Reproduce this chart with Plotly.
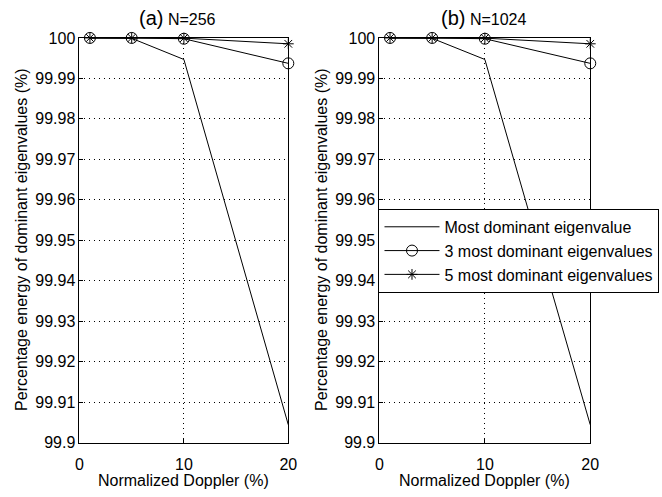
import plotly.graph_objects as go

doppler = [1, 5, 10, 20]
most_256 = [100.0, 99.9999, 99.99468, 99.9044]
three_256 = [100.0, 100.0, 99.9998, 99.99372]
five_256 = [100.0, 100.0, 99.99995, 99.99855]
most_1024 = [100.0, 99.9999, 99.99468, 99.9044]
three_1024 = [100.0, 100.0, 99.9998, 99.99372]
five_1024 = [100.0, 100.0, 99.99995, 99.99855]

y_ticks = [99.9, 99.91, 99.92, 99.93, 99.94, 99.95, 99.96, 99.97, 99.98, 99.99, 100]
y_ticktext = ["99.9", "99.91", "99.92", "99.93", "99.94", "99.95", "99.96", "99.97", "99.98", "99.99", "100"]
x_ticks = [0, 10, 20]
titles = ["(a)", "(b)"]
subtitles = ["N=256", "N=1024"]
names = ["Most dominant eigenvalue", "3 most dominant eigenvalues", "5 most dominant eigenvalues"]
x_title = "Normalized Doppler (%)"
y_title = "Percentage energy of dominant eigenvalues (%)"

FONT = "Liberation Sans, Arial, sans-serif"
FS = 16
W, H = 662, 497

fig = go.Figure()

datasets = [(most_256, three_256, five_256), (most_1024, three_1024, five_1024)]
for i, (m, t, f) in enumerate(datasets):
    xa = "x" if i == 0 else "x2"
    ya = "y" if i == 0 else "y2"
    show = i == 1
    fig.add_trace(go.Scatter(x=doppler, y=m, mode="lines", name=names[0],
                             line=dict(color="black", width=1), xaxis=xa, yaxis=ya,
                             showlegend=show, cliponaxis=False))
    fig.add_trace(go.Scatter(x=doppler, y=t, mode="lines+markers", name=names[1],
                             line=dict(color="black", width=1),
                             marker=dict(symbol="circle-open", size=11, color="black", line=dict(width=1)),
                             xaxis=xa, yaxis=ya, showlegend=show, cliponaxis=False))
    fig.add_trace(go.Scatter(x=doppler, y=f, mode="lines+markers", name=names[2],
                             line=dict(color="black", width=1),
                             marker=dict(symbol="asterisk-open", size=9, color="black", line=dict(width=1, color="black")),
                             xaxis=xa, yaxis=ya, showlegend=show, cliponaxis=False))

left_dom = [77 / W, 290 / W]
right_dom = [383 / W, 598 / W]
y_dom = [1 - 450 / H, 1 - 31 / H]
title_x = [177 / W, 489 / W]

axis_common = dict(showline=True, linecolor="black", linewidth=1, mirror=True,
                   ticks="inside", ticklen=4, tickcolor="black",
                   showgrid=True, gridcolor="black", griddash="1px,4px", gridwidth=1,
                   zeroline=False, tickfont=dict(family=FONT, size=FS, color="black"))

for i, dom in enumerate([left_dom, right_dom]):
    suffix = "" if i == 0 else "2"
    fig.update_layout(**{
        "xaxis" + suffix: dict(domain=dom, range=[0, 20], tickvals=x_ticks, anchor="y" + suffix,
                               ticklabelstandoff=7, **axis_common),
        "yaxis" + suffix: dict(domain=y_dom, range=[99.9, 100], tickvals=y_ticks, ticktext=y_ticktext,
                               anchor="x" + suffix, **axis_common),
    })
    cx = (dom[0] + dom[1]) / 2
    fig.add_annotation(xref="paper", yref="paper", x=title_x[i], y=1 - 10 / H,
                       text="<span style='font-size:20px'>" + titles[i] + "</span> " + subtitles[i],
                       showarrow=False, font=dict(family=FONT, size=FS, color="black"),
                       xanchor="center", yanchor="middle")
    fig.add_annotation(xref="paper", yref="paper", x=cx, y=1 - 489 / H,
                       text=x_title, showarrow=False, font=dict(family=FONT, size=FS, color="black"),
                       xanchor="center", yanchor="middle")
    fig.add_annotation(xref="paper", yref="paper", x=(dom[0] * W - 59) / W, y=(y_dom[0] + y_dom[1]) / 2,
                       text=y_title, textangle=-90, showarrow=False,
                       font=dict(family=FONT, size=FS, color="black"),
                       xanchor="center", yanchor="middle")

fig.update_layout(
    width=W, height=H, margin=dict(l=0, r=0, t=0, b=0),
    plot_bgcolor="white", paper_bgcolor="white",
    font=dict(family=FONT, color="black"),
    legend=dict(x=382 / W, y=1 - 208 / H, xanchor="left", yanchor="top",
                bgcolor="white", bordercolor="black", borderwidth=1,
                font=dict(family=FONT, size=FS, color="black"),
                tracegroupgap=0, itemwidth=55),
)

fig.write_html("out.html")
